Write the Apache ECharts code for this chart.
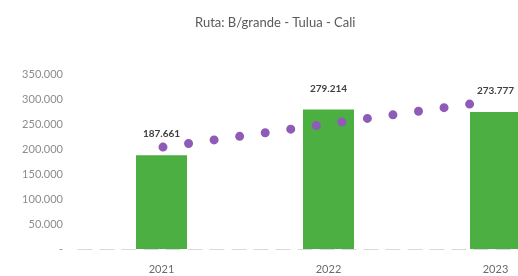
<!DOCTYPE html>
<html>
<head>
<meta charset="utf-8">
<script src="https://cdn.jsdelivr.net/npm/echarts@6/dist/echarts.min.js"></script>
<style>
  html, body { margin: 0; padding: 0; background: #fff; }
  #chart { width: 518px; height: 276px; }
</style>
</head>
<body>
<div id="chart"></div>
<script>
// datos
var years = ['2021', '2022', '2023'];
var pasajeros = [187661, 279214, 273777];
// linea de tendencia (extremos leidos)
var tendenciaX = [1, 3];
var tendencia = [203800, 289900];
var yTicks = [0, 50000, 100000, 150000, 200000, 250000, 300000, 350000];

function fmt(v) {
  if (v === 0) return '-';
  return String(v).replace(/\B(?=(\d{3})+(?!\d))/g, '.');
}

var chart = echarts.init(document.getElementById('chart'));
chart.setOption({
  animation: false,
  textStyle: { fontFamily: 'Lato' },
  title: {
    text: 'Ruta: B/grande - Tulua - Cali',
    left: 190,
    top: 11,
    textStyle: { fontSize: 13, fontWeight: 'normal', color: '#595959', fontFamily: 'Lato' }
  },
  grid: [
    { left: 78, top: 74, width: 501, height: 175, outerBoundsMode: 'none', containLabel: false },
    // grid auxiliar para la tendencia
    { left: 163, top: 74, width: 307, height: 175, outerBoundsMode: 'none', containLabel: false }
  ],
  xAxis: [{
    type: 'category',
    data: years,
    gridIndex: 0,
    axisTick: { show: false },
    axisLine: { lineStyle: { color: '#d9d9d9', type: [14, 8] } },
    axisLabel: { color: '#6b6b6b', fontSize: 11, margin: 15 }
  }, {
    type: 'value',
    gridIndex: 1,
    min: tendenciaX[0],
    max: tendenciaX[1],
    show: false
  }],
  yAxis: [{
    type: 'value',
    gridIndex: 0,
    min: yTicks[0],
    max: yTicks[yTicks.length - 1],
    interval: 50000,
    splitLine: { show: false },
    axisLine: { show: false },
    axisTick: { show: false },
    axisLabel: { color: '#8c8c8c', fontSize: 11, margin: 15, formatter: fmt }
  }, {
    type: 'value',
    gridIndex: 1,
    min: yTicks[0],
    max: yTicks[yTicks.length - 1],
    show: false
  }],
  series: [{
    type: 'bar',
    xAxisIndex: 0,
    yAxisIndex: 0,
    data: pasajeros,
    barWidth: 51,
    itemStyle: { color: '#4caf41' },
    label: {
      show: true,
      position: 'top',
      distance: 16,
      color: '#404040',
      fontSize: 10,
      fontWeight: 'bold',
      formatter: function (p) { return fmt(p.value); }
    },
    z: 2
  }, {
    type: 'line',
    xAxisIndex: 1,
    yAxisIndex: 1,
    data: tendenciaX.map(function (x, i) { return [x, tendencia[i]]; }),
    symbol: 'none',
    lineStyle: { color: '#8e5bb8', width: 9, type: [0, 25.8], cap: 'round' },
    z: 3
  }]
});
</script>
</body>
</html>
